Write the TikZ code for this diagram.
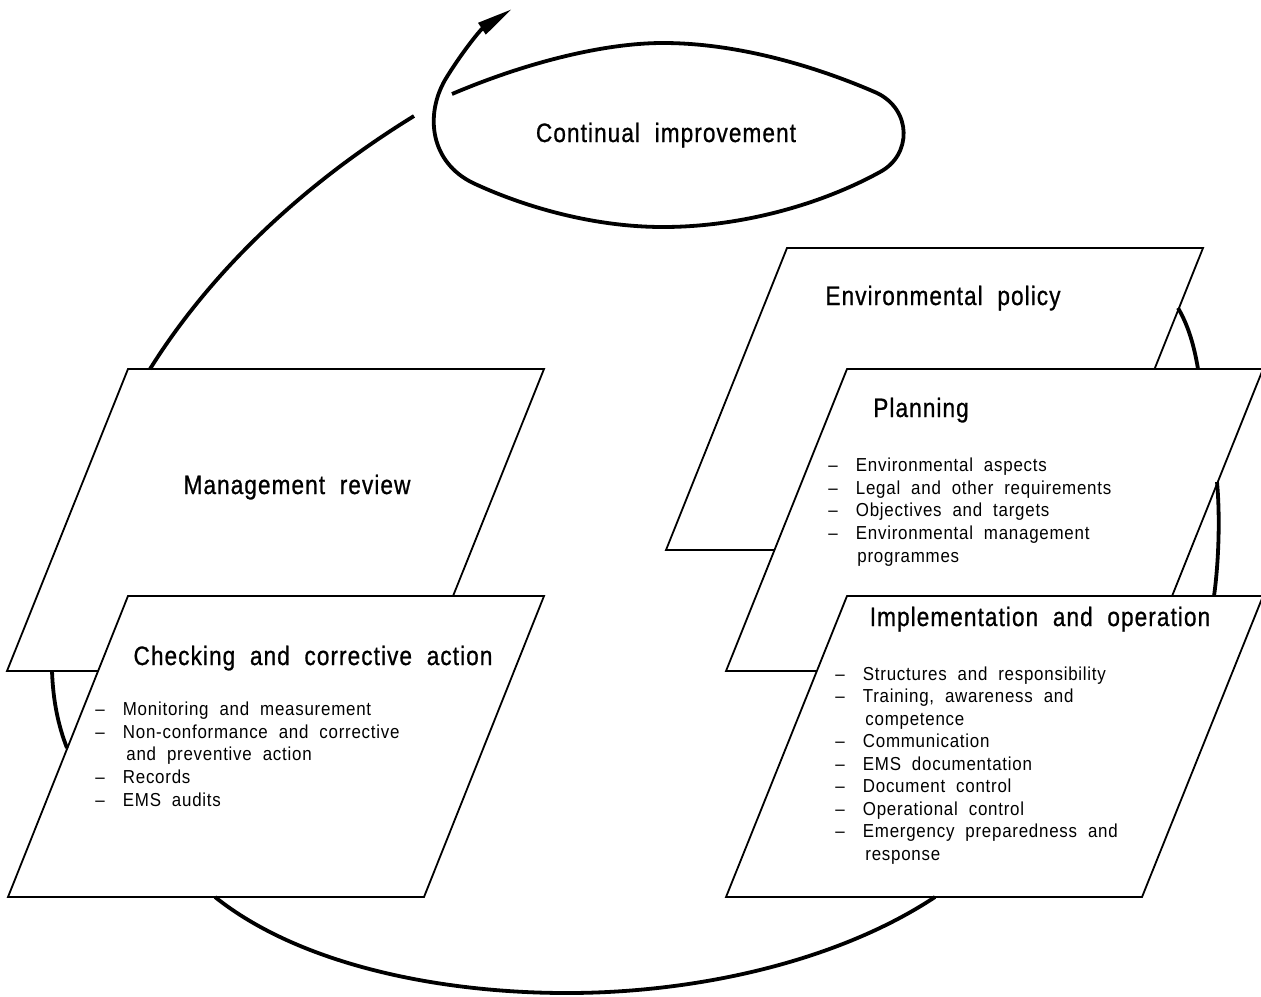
\documentclass[tikz,border=0pt]{standalone}
\usepackage{fontspec}
\setmainfont{Liberation Sans}[FakeStretch=0.9,LetterSpace=4,WordSpace=2]
\newfontfamily\headfont{Liberation Sans}[FakeStretch=0.85,LetterSpace=4,WordSpace=2,FakeBold=0.8]
\usetikzlibrary{arrows.meta}

\tikzset{
  card/.style={draw=black, line width=0.9pt, fill=white, line join=miter},
  cyclearc/.style={draw=black, line width=1.9pt},
  heading/.style={inner sep=0pt, anchor=base, font=\headfont\fontsize{13.3}{16}\selectfont},
  entry/.style={inner sep=0pt, anchor=base west, font=\fontsize{9.4}{11.35}\selectfont},
}
% one dashed list line: dash, then the text at a fixed indent
\newcommand\dashline[1]{\makebox[13.75pt][l]{–}#1}

\begin{document}
\begin{tikzpicture}[x=0.5pt, y=-0.5pt]
\useasboundingbox (0,0) rectangle (1261,996);

% ---- cards (parallelograms), back to front ----
\draw[card] (787,248) coordinate (env-tl) -- (1203,248) coordinate (env-tr)
  -- (1082,550) coordinate (env-br) -- (666,550) coordinate (env-bl) -- cycle;
\draw[card] (847,369) coordinate (plan-tl) -- (1263,369) coordinate (plan-tr)
  -- (1142,671) coordinate (plan-br) -- (726,671) coordinate (plan-bl) -- cycle;
\draw[card] (847,596) coordinate (impl-tl) -- (1263,596) coordinate (impl-tr)
  -- (1142,897) coordinate (impl-br) -- (726,897) coordinate (impl-bl) -- cycle;
\draw[card] (128,369) coordinate (rev-tl) -- (544,369) coordinate (rev-tr)
  -- (423,671) coordinate (rev-br) -- (7,671) coordinate (rev-bl) -- cycle;
\draw[card] (128,596) coordinate (chk-tl) -- (544,596) coordinate (chk-tr)
  -- (424,897) coordinate (chk-br) -- (8,897) coordinate (chk-bl) -- cycle;

% ---- points where the cycle leaves and enters the cards ----
\coordinate (env-out)  at (1178,308);
\coordinate (plan-in)  at (1198,369);
\coordinate (plan-out) at (1217,482);
\coordinate (impl-in)  at (1214,596);
\coordinate (impl-out) at (935,897);
\coordinate (chk-in)   at (215,897);
\coordinate (chk-out)  at (67,748);
\coordinate (rev-in)   at (52,671);
\coordinate (rev-out)  at (150,369);
\coordinate (loop-in)  at (414,116);
\coordinate (loop-start) at (452,94);
\coordinate (loop-tip) at (512,9);

% ---- the improvement cycle ----
\draw[cyclearc] (env-out) .. controls (1188,325) and (1194,345) .. (plan-in);
\draw[cyclearc] (plan-out) .. controls (1220,515) and (1219,560) .. (impl-in);
\draw[cyclearc] (impl-out) .. controls (840,960) and (700,993) .. (567,993)
  .. controls (440,993) and (300,965) .. (chk-in);
\draw[cyclearc] (chk-out) .. controls (58,725) and (53,700) .. (rev-in);
\draw[cyclearc] (rev-out) .. controls (215,265) and (310,180) .. (loop-in);

% ---- continual improvement loop with arrow ----
\draw[cyclearc, -{Triangle[length=18pt,width=6.5pt]}] (loop-start)
  .. controls (520,65) and (600,43) .. (663,43)
  .. controls (740,43) and (820,68) .. (877,93)
  .. controls (912,110) and (912,155) .. (880,172)
  .. controls (820,205) and (740,227) .. (663,227)
  .. controls (590,227) and (520,205) .. (473,183)
  .. controls (430,162) and (425,115) .. (445,80)
  .. controls (460,55) and (480,30) .. (loop-tip);

% ---- headings ----
\node[heading] (t-loop) at (666,142) {Continual improvement};
\node[heading] (t-env)  at (943,305) {Environmental policy};
\node[heading] (t-plan) at (921,417) {Planning};
\node[heading] (t-rev)  at (297,494) {Management review};
\node[heading] (t-chk)  at (313,665) {Checking and corrective action};
\node[heading] (t-impl) at (1040,626) {Implementation and operation};

% ---- planning items ----
\node[entry] (p1) at (828,471.5) {\dashline{Environmental aspects}};
\node[entry] (p2) at (828,494.2) {\dashline{Legal and other requirements}};
\node[entry] (p3) at (828,516.9) {\dashline{Objectives and targets}};
\node[entry] (p4) at (828,539.6) {\dashline{Environmental management}};
\node[entry] (p5) at (857,562.3) {programmes};

% ---- checking items ----
\node[entry] (c1) at (95,715.5) {\dashline{Monitoring and measurement}};
\node[entry] (c2) at (95,738.2) {\dashline{Non-conformance and corrective}};
\node[entry] (c3) at (126,760.9) {and preventive action};
\node[entry] (c4) at (95,783.6) {\dashline{Records}};
\node[entry] (c5) at (95,806.3) {\dashline{EMS audits}};

% ---- implementation items ----
\node[entry] (i1) at (835,680) {\dashline{Structures and responsibility}};
\node[entry] (i2) at (835,702.5) {\dashline{Training, awareness and}};
\node[entry] (i3) at (865,725) {competence};
\node[entry] (i4) at (835,747.5) {\dashline{Communication}};
\node[entry] (i5) at (835,770) {\dashline{EMS documentation}};
\node[entry] (i6) at (835,792.5) {\dashline{Document control}};
\node[entry] (i7) at (835,815) {\dashline{Operational control}};
\node[entry] (i8) at (835,837.5) {\dashline{Emergency preparedness and}};
\node[entry] (i9) at (865,860) {response};
\end{tikzpicture}
\end{document}
